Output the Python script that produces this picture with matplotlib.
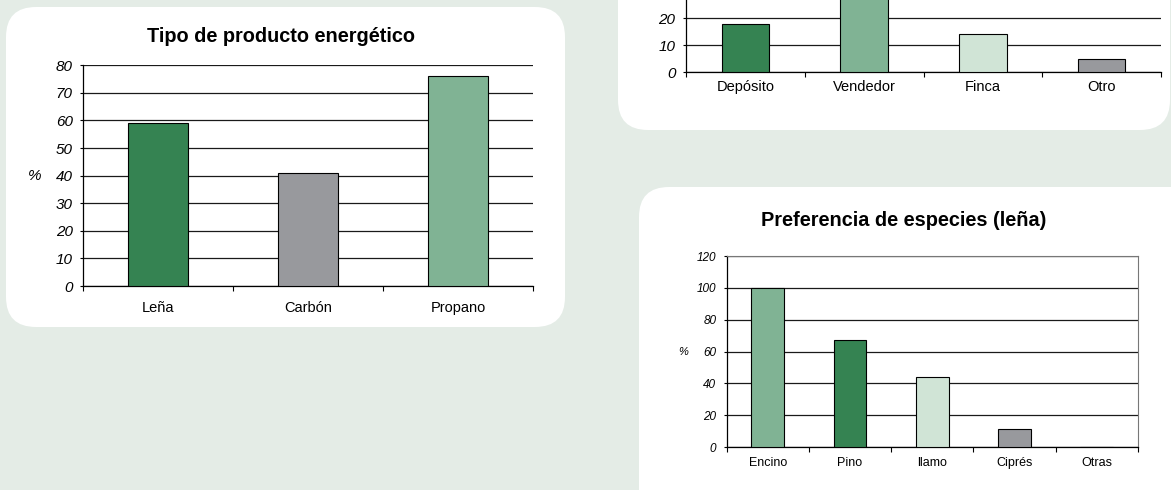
import matplotlib
matplotlib.use('Agg')
import matplotlib.pyplot as plt
from matplotlib.patches import FancyBboxPatch

plt.rcParams['font.family'] = ['Liberation Sans', 'DejaVu Sans']

# datos
tipo_cat = ['Leña', 'Carbón', 'Propano']
tipo_val = [59, 41, 76]

fuente_cat = ['Depósito', 'Vendedor', 'Finca', 'Otro']
fuente_val = [18, 62, 14, 5]

especie_cat = ['Encino', 'Pino', 'llamo', 'Ciprés', 'Otras']
especie_val = [100, 67, 44, 11, 0]

dark_green = '#358352'
gray = '#98999d'
light_green = '#80b394'
pale_green = '#d0e4d6'
bg = '#e4ece6'

W, H = 1171, 490
fig = plt.figure(figsize=(W / 100, H / 100), dpi=100)
fig.patch.set_facecolor(bg)


def panel(x0, y0, x1, y1):
    # rectangulo blanco redondeado, coordenadas en pixeles (y desde arriba)
    p = FancyBboxPatch((x0 / 100, (H - y1) / 100), (x1 - x0) / 100, (y1 - y0) / 100,
                       boxstyle='round,pad=0,rounding_size=0.3',
                       transform=fig.dpi_scale_trans, facecolor='white',
                       edgecolor='none', zorder=-5)
    fig.patches.append(p)


panel(6, 7, 565, 327)
panel(618, -60, 1170, 130)
panel(639, 187, 1230, 540)


def bar_chart(ax, cats, vals, colors, ymax, ystep, yfs, xfs, xpad, box=False, ytop=None):
    n = len(cats)
    ax.set_facecolor('none')
    ax.bar(range(n), vals, width=0.4, color=colors, edgecolor='black', linewidth=0.8, zorder=3)
    ax.set_xlim(-0.5, n - 0.5)
    ax.set_ylim(0, ymax)
    if ytop is None:
        ytop = ymax
    yt = list(range(0, ytop + 1, ystep))
    ax.set_yticks(yt)
    ax.set_yticklabels([str(v) for v in yt], fontsize=yfs, style='italic')
    ax.yaxis.grid(True, color='#1a1a1a', linewidth=0.9, zorder=1)
    ax.set_axisbelow(True)
    ax.set_xticks([i - 0.5 for i in range(n + 1)])
    ax.set_xticklabels([])
    ax.set_xticks(range(n), minor=True)
    ax.set_xticklabels(cats, minor=True, fontsize=xfs)
    ax.tick_params(axis='x', which='major', direction='out', length=3.5, width=0.8)
    ax.tick_params(axis='x', which='minor', length=0, pad=xpad)
    ax.tick_params(axis='y', direction='out', length=2.5, width=0.8, pad=5)
    for s in ['left', 'bottom']:
        ax.spines[s].set_linewidth(0.9)
    if box:
        ax.spines['top'].set_color('#777777')
        ax.spines['right'].set_color('#777777')
        ax.spines['top'].set_linewidth(0.8)
        ax.spines['right'].set_linewidth(0.8)
    else:
        ax.spines['top'].set_visible(False)
        ax.spines['right'].set_visible(False)


# Tipo de producto energetico
ax1 = fig.add_axes([83.3 / W, (H - 286) / H, 450 / W, 220.7 / H])
bar_chart(ax1, tipo_cat, tipo_val, [dark_green, gray, light_green], 80, 10, 11, 10.5, 11)
fig.text(281 / W, (H - 37) / H, 'Tipo de producto energético', ha='center', va='center',
         fontsize=14.3, fontweight='bold')
fig.text(35 / W, (H - 176) / H, '%', ha='center', va='center', fontsize=11, style='italic')

# fuente (recortado arriba)
ax2 = fig.add_axes([686 / W, (H - 72) / H, 475 / W, 187.6 / H])
bar_chart(ax2, fuente_cat, fuente_val, [dark_green, light_green, pale_green, gray], 70, 10, 11, 10.5, 6,
          ytop=20)

# Preferencia de especies
ax3 = fig.add_axes([726.7 / W, (H - 447) / H, 411 / W, 191 / H])
bar_chart(ax3, especie_cat, especie_val, [light_green, dark_green, pale_green, gray, gray],
          120, 20, 8.5, 9, 7, box=True)
fig.text(904 / W, (H - 220) / H, 'Preferencia de especies (leña)', ha='center', va='center',
         fontsize=14.3, fontweight='bold')
fig.text(683 / W, (H - 352) / H, '%', ha='center', va='center', fontsize=8, style='italic')

fig.savefig('out.png', dpi=100, facecolor=bg)
